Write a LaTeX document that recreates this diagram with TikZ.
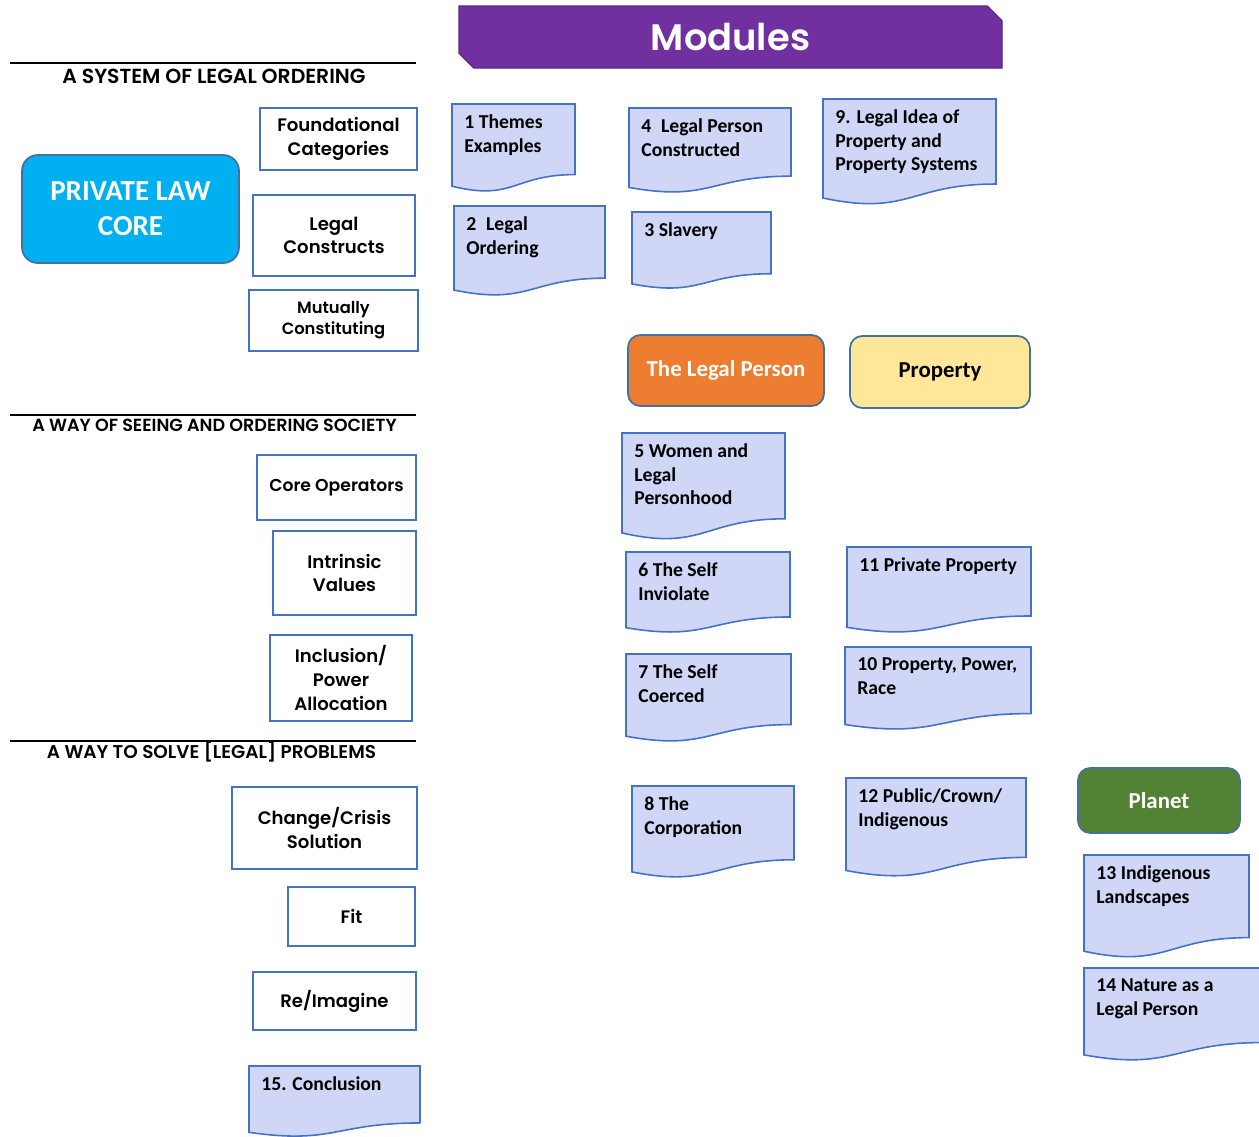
\documentclass[tikz,border=0pt]{standalone}
\usepackage{fontspec}
\setmainfont{Carlito}
\newfontfamily\gothic{Poppins}[UprightFont=* Medium, BoldFont=* SemiBold]
\usetikzlibrary{shapes.misc}

% Module document box: name, left, top, width, height, text
\newcommand{\moddoc}[6]{%
  \filldraw[docshape] (#2,#3) -- ({#2+#4},#3) -- ({#2+#4},{#3+0.802*#5})
    .. controls ({#2+0.5*#4},{#3+0.802*#5}) and ({#2+0.5*#4},{#3+1.107*#5}) .. (#2,{#3+0.934*#5}) -- cycle;
  \node[doctext] (#1) at ({#2+12},{#3+10}) {#6};
}

\tikzset{
  boxsize/.style 2 args={minimum width=#1*0.02cm, minimum height=#2*0.02cm},
  axisbox/.style={draw=edgeblue, line width=0.9pt, fill=white, align=center, inner sep=0pt,
    font=\gothic\bfseries\fontsize{10.3}{13.5}\selectfont},
  heading/.style={font=\gothic\bfseries\fontsize{#1}{12}\selectfont, inner sep=0pt},
  rule/.style={line width=1.3pt},
  themebox/.style={draw=edgedark, line width=1pt, rounded corners=7pt, align=center, inner sep=0pt,
    font=\bfseries\fontsize{13}{15}\selectfont},
  docshape/.style={draw=edgeblue, line width=0.9pt, fill=docfill},
  doctext/.style={anchor=north west, align=left, inner sep=0pt,
    font=\bfseries\fontsize{11.2}{13.6}\selectfont}
}

\begin{document}
\begin{tikzpicture}[x=0.02cm, y=-0.02cm]
        % Colours
        \definecolor{modpurple}{HTML}{7030A0}
        \definecolor{coreblue}{HTML}{00B0F0}
        \definecolor{personorange}{HTML}{ED7D31}
        \definecolor{propyellow}{HTML}{FFE699}
        \definecolor{planetgreen}{HTML}{548235}
        \definecolor{docfill}{HTML}{CFD6F6}
        \definecolor{edgeblue}{HTML}{4472C4}
        \definecolor{edgedark}{HTML}{41719C}

        \useasboundingbox (0,0) rectangle (1259,1137);
        \clip (0,0) rectangle (1259,1137);

        % Banner
        \node[chamfered rectangle, chamfered rectangle corners={north east, south west},
              chamfered rectangle xsep=9*0.02cm, draw=modpurple!80!black, line width=0.6pt,
              fill=modpurple, boxsize={543}{62}, inner sep=0pt, text=white,
              font=\gothic\bfseries\fontsize{21}{24}\selectfont] (modules) at (730.5,37) {Modules};

        % Section headings
        \draw[rule] (10,63) -- (416,63);
        \node[heading=11.6] (ordering) at (214,76) {A SYSTEM OF LEGAL ORDERING};
        \draw[rule] (10,415) -- (416,415);
        \node[heading=10] (seeing) at (214.5,425) {A WAY OF SEEING AND ORDERING SOCIETY};
        \draw[rule] (10,741) -- (416,741);
        \node[heading=10.5] (solve) at (211.5,752) {A WAY TO SOLVE [LEGAL] PROBLEMS};

        % Left column
        \node[themebox, draw=edgedark, fill=coreblue, text=white, rounded corners=9pt, boxsize={217}{108},
              font=\bfseries\fontsize{16.5}{20}\selectfont] (core) at (130.5,209) {PRIVATE LAW\\CORE};
        \node[axisbox, boxsize={157}{62}] (found) at (338.5,139) {Foundational\\Categories};
        \node[axisbox, boxsize={162}{81}] (constructs) at (334,235.5) {Legal\\Constructs};
        \node[axisbox, boxsize={169}{61}, font=\gothic\bfseries\fontsize{9.3}{12}\selectfont] (mutual) at (333.5,320.5) {Mutually\\Constituting};
        \node[axisbox, boxsize={159}{65}, font=\gothic\bfseries\fontsize{9.8}{12}\selectfont] (operators) at (336.5,487.5) {Core Operators};
        \node[axisbox, boxsize={143}{84}] (values) at (344.5,573) {Intrinsic\\Values};
        \node[axisbox, boxsize={142}{86}] (inclusion) at (341,678) {Inclusion/\\Power\\Allocation};
        \node[axisbox, boxsize={185}{82}] (crisis) at (324.5,828) {Change/Crisis\\Solution};
        \node[axisbox, boxsize={127}{59}] (fit) at (351.5,916.5) {Fit};
        \node[axisbox, boxsize={163}{58}] (reimagine) at (334.5,1001) {Re/Imagine};
        \moddoc{m15}{249}{1066}{171}{71}{15. Conclusion}

        % Theme headers
        \node[themebox, fill=personorange, text=white, boxsize={196}{71}] (person) at (726,370.5) {The Legal Person};
        \node[themebox, fill=propyellow, boxsize={180}{72}] (property) at (940,372) {Property};
        \node[themebox, fill=planetgreen, text=white, boxsize={162}{65}] (planet) at (1159,800.5) {Planet};

        % Modules
        \moddoc{m1}{452}{104}{123}{88}{1 Themes\\Examples}
        \moddoc{m2}{454}{206}{151}{90}{2\enspace Legal\\Ordering}
        \moddoc{m4}{629}{108}{162}{85}{4\enspace Legal Person\\Constructed}
        \moddoc{m3}{632}{212}{139}{77}{3 Slavery}
        \moddoc{m9}{823}{99}{173}{106}{9. Legal Idea of\\Property and\\Property Systems}
        \moddoc{m5}{622}{433}{163}{107}{5 Women and\\Legal\\Personhood}
        \moddoc{m6}{626}{552}{164}{81}{6 The Self\\Inviolate}
        \moddoc{m7}{626}{654}{165}{88}{7 The Self\\Coerced}
        \moddoc{m8}{632}{786}{162}{92}{8 The\\Corporation}
        \moddoc{m11}{847}{547}{184}{86}{11 Private Property}
        \moddoc{m10}{845}{647}{186}{83}{10 Property, Power,\\Race}
        \moddoc{m12}{846}{778}{180}{99}{12 Public/Crown/\\Indigenous}
        \moddoc{m13}{1084}{855}{165}{103}{13 Indigenous\\Landscapes}
        \moddoc{m14}{1084}{968}{178}{93}{14 Nature as a\\Legal Person}

    \end{tikzpicture}
\end{document}
